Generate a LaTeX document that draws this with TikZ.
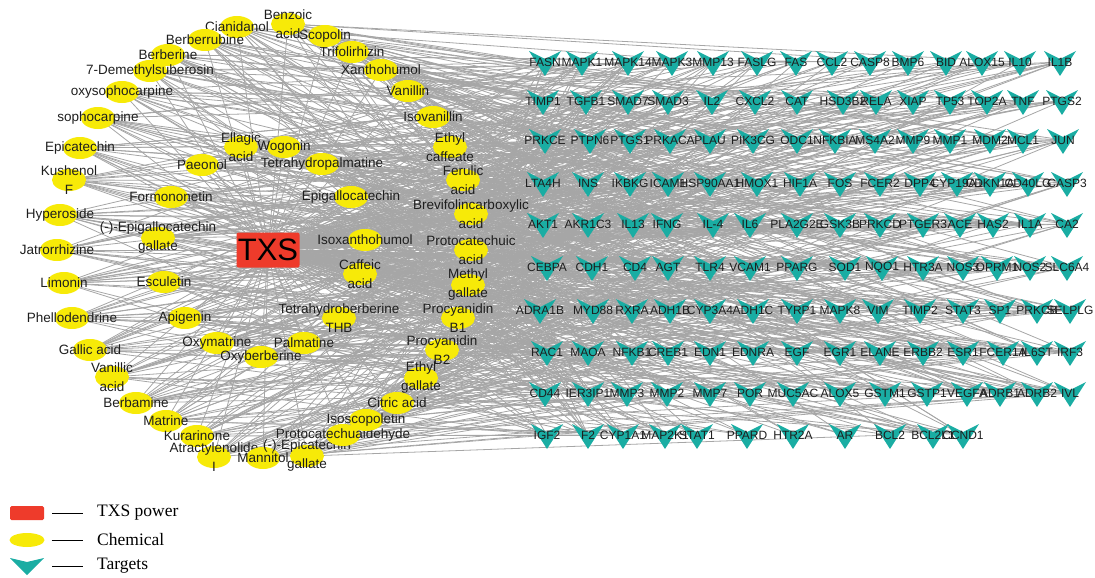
\documentclass[tikz,border=0pt]{standalone}
\usepackage{fontspec}
\setmainfont{Liberation Sans}
\newfontfamily\legendfont{Liberation Serif}
\usetikzlibrary{backgrounds,shapes.geometric}
\definecolor{chemyellow}{HTML}{F7EA08}
\definecolor{targetteal}{HTML}{1AADA3}
\definecolor{txsred}{HTML}{EE3B2B}
\definecolor{edgegray}{HTML}{A6A6A6}
\definecolor{labelblack}{HTML}{1E1E1E}
\tikzset{
  chem/.style={inner sep=0pt, minimum width=34pt, minimum height=22pt, align=center,
    text=labelblack, font=\fontsize{13.5}{19}\selectfont,
    path picture={\fill[chemyellow] (path picture bounding box.center) ellipse [x radius=17pt, y radius=11pt];}},
  target/.style={inner sep=0pt, minimum width=34pt, minimum height=28pt,
    text=labelblack, font=\fontsize{12}{14}\selectfont,
    path picture={\fill[targetteal]
      ([shift={(-16pt,11pt)}]path picture bounding box.center) --
      ([shift={(0pt,3pt)}]path picture bounding box.center) --
      ([shift={(16pt,11pt)}]path picture bounding box.center) --
      ([shift={(0pt,-14pt)}]path picture bounding box.center) -- cycle;}},
  legtarget/.style={inner sep=0pt, minimum width=36pt, minimum height=20pt,
    path picture={\fill[targetteal]
      ([shift={(-17pt,8pt)}]path picture bounding box.center) --
      ([shift={(0pt,4pt)}]path picture bounding box.center) --
      ([shift={(17pt,8pt)}]path picture bounding box.center) --
      ([shift={(0pt,-9pt)}]path picture bounding box.center) -- cycle;}},
  legtext/.style={anchor=west, inner sep=0pt, font=\legendfont\fontsize{17.5}{19}\selectfont},
  edge/.style={draw=edgegray, line width=0.8pt}
}
\begin{document}
\begin{tikzpicture}[x=1pt, y=-1pt]
\useasboundingbox (0,0) rectangle (1095,578);

\node[inner sep=0pt, fill=txsred, rounded corners=2pt, minimum width=63pt, minimum height=35pt,
  font=\fontsize{31}{31}\selectfont] (txs) at (268,250) {TXS};

% chemicals, outer ring
\node[chem] (c1) at (237,27) {Cianidanol};
\node[chem] (c2) at (205,40) {Berberrubine};
\node[chem] (c3) at (168,55) {Berberine};
\node[chem] (c4) at (150,71) {7-Demethylsuberosin};
\node[chem] (c5) at (122,92) {oxysophocarpine};
\node[chem] (c6) at (98,118) {sophocarpine};
\node[chem] (c7) at (80,148) {Epicatechin};
\node[chem] (c8) at (69,180) {Kushenol\\F};
\node[chem] (c9) at (60,215) {Hyperoside};
\node[chem] (c10) at (57,250) {Jatrorrhizine};
\node[chem] (c11) at (64,283) {Limonin};
\node[chem] (c12) at (72,318) {Phellodendrine};
\node[chem] (c13) at (90,350) {Gallic acid};
\node[chem] (c14) at (112,377) {Vanillic\\acid};
\node[chem] (c15) at (136,403) {Berbamine};
\node[chem] (c16) at (166,421) {Matrine};
\node[chem] (c17) at (197,436) {Kurarinone};
\node[chem] (c18) at (214,457) {Atractylenolide\\I};
\node[chem] (c19) at (263,458) {Mannitol};
\node[chem] (c20) at (307,456) {(-)-Epicatechin\\gallate};
\node[chem] (c21) at (343,435) {Protocatechualdehyde};
\node[chem] (c22) at (366,420) {Isoscopoletin};
\node[chem] (c23) at (397,403) {Citric acid};
\node[chem] (c24) at (421,378) {Ethyl\\gallate};
\node[chem] (c25) at (442,350) {Procyanidin\\B2};
\node[chem] (c26) at (458,318) {Procyanidin\\B1};
\node[chem] (c27) at (468,285) {Methyl\\gallate};
\node[chem] (c28) at (471,250) {Protocatechuic\\acid};
\node[chem] (c29) at (471,214) {Brevifolincarboxylic\\acid};
\node[chem] (c30) at (463,180) {Ferulic\\acid};
\node[chem] (c31) at (450,147) {Ethyl\\caffeate};
\node[chem] (c32) at (433,117) {Isovanillin};
\node[chem] (c33) at (408,91) {Vanillin};
\node[chem] (c34) at (381,70) {Xanthohumol};
\node[chem] (c35) at (352,52) {Trifolirhizin};
\node[chem] (c36) at (325,36) {Scopolin};
\node[chem] (c37) at (288,24) {Benzoic\\acid};
% chemicals, inner ring
\node[chem] (c38) at (241,147) {Ellagic\\acid};
\node[chem] (c39) at (284,147) {Wogonin};
\node[chem] (c40) at (322,164) {Tetrahydropalmatine};
\node[chem] (c41) at (202,165) {Paeonol};
\node[chem] (c42) at (171,197) {Formononetin};
\node[chem] (c43) at (351,197) {Epigallocatechin};
\node[chem] (c44) at (158,238) {(-)-Epigallocatechin\\gallate};
\node[chem] (c45) at (365,240) {Isoxanthohumol};
\node[chem] (c46) at (164,282) {Esculetin};
\node[chem] (c47) at (360,274) {Caffeic\\acid};
\node[chem] (c48) at (339,318) {Tetrahydroberberine\\THB};
\node[chem] (c49) at (185,318) {Apigenin};
\node[chem] (c50) at (217,343) {Oxymatrine};
\node[chem] (c51) at (304,343) {Palmatine};
\node[chem] (c52) at (261,357) {Oxyberberine};

% targets, row by row
\foreach \lab/\x [count=\n from 1] in {FASN/545, MAPK1/582, MAPK14/628, MAPK3/672, MMP13/713, FASLG/757, FAS/796, CCL2/832, CASP8/870, BMP6/908, BID/946, ALOX15/982, IL10/1020, IL1B/1060}
  \node[target] (t\n) at (\x,62) {\lab};
\foreach \lab/\x [count=\n from 15] in {TIMP1/543, TGFB1/586, SMAD7/628, SMAD3/668, IL2/712, CXCL2/755, CAT/797, HSD3B2/843, RELA/876, XIAP/913, TP53/950, TOP2A/987, TNF/1023, PTGS2/1062}
  \node[target] (t\n) at (\x,101) {\lab};
\foreach \lab/\x [count=\n from 29] in {PRKCE/545, PTPN6/590, PTGS1/630, PRKACA/670, PLAU/710, PIK3CG/753, ODC1/797, NFKBIA/835, MS4A2/875, MMP9/913, MMP1/950, MDM2/990, MCL1/1023, JUN/1063}
  \node[target] (t\n) at (\x,140) {\lab};
\foreach \lab/\x [count=\n from 43] in {LTA4H/543, INS/588, IKBKG/630, ICAM1/668, HSP90AA1/710, HMOX1/757, HIF1A/800, FOS/840, FCER2/880, DPP4/920, CYP19A1/957, CDKN1A/990, CD40LG/1028, CASP3/1067}
  \node[target] (t\n) at (\x,183) {\lab};
\foreach \lab/\x [count=\n from 57] in {AKT1/543, AKR1C3/588, IL13/633, IFNG/667, IL-4/713, IL6/750, PLA2G2E/797, GSK3B/840, PRKCD/880, PTGER3/923, ACE/960, HAS2/993, IL1A/1030, CA2/1067}
  \node[target] (t\n) at (\x,224) {\lab};
\foreach \lab/\x [count=\n from 71] in {CEBPA/547, CDH1/592, CD4/635, AGT/668, TLR4/710, VCAM1/750, PPARG/797, SOD1/845, NQO1/882, HTR3A/923, NOS3/963, OPRM1/997, NOS2/1030, SLC6A4/1067}
  \node[target] (t\n) at (\x,267) {\lab};
\foreach \lab/\x [count=\n from 85] in {ADRA1B/540, MYD88/593, RXRA/632, ADH1B/670, CYP3A4/710, ADH1C/753, TYRP1/797, MAPK8/840, VIM/878, TIMP2/920, STAT3/963, SP1/1000, PRKCB/1037, SELPLG/1070}
  \node[target] (t\n) at (\x,310) {\lab};
\foreach \lab/\x [count=\n from 99] in {RAC1/547, MAOA/588, NFKB1/632, CREB1/668, EDN1/710, EDNRA/753, EGF/797, EGR1/840, ELANE/880, ERBB2/923, ESR1/963, FCER1A/1003, IL6ST/1037, IRF3/1070}
  \node[target] (t\n) at (\x,352) {\lab};
\foreach \lab/\x [count=\n from 113] in {CD44/545, IER3IP1/588, MMP3/627, MMP2/667, MMP7/710, POR/750, MUC5AC/793, ALOX5/840, GSTM1/885, GSTP1/927, VEGFA/967, ADRB1/1000, ADRB2/1037, IVL/1070}
  \node[target] (t\n) at (\x,393) {\lab};
\foreach \lab/\x [count=\n from 127] in {IGF2/547, F2/588, CYP1A1/623, MAP2K1/665, STAT1/697, PPARD/747, HTR2A/793, AR/845, BCL2/890, BCL2L1/933, CCND1/963}
  \node[target] (t\n) at (\x,435) {\lab};

\begin{scope}[on background layer]
\foreach \i in {1,...,52}
  \path[edge] (txs.center) -- (c\i.center);
\foreach \j in {1,...,137}
  \path[edge] (txs.center) -- (t\j.center);
\foreach \i in {1,...,52}
  \foreach \k in {1,...,14} {
    \pgfmathtruncatemacro\j{mod(\i*41+\k*\k*13+\k*17,137)+1}
    \path[edge] (c\i.center) -- (t\j.center);
  }
\end{scope}

% legend
\node[inner sep=0pt, fill=txsred, rounded corners=1.5pt, minimum width=34pt, minimum height=14pt] (l1) at (27,513) {};
\node[legtext] (l1t) at (97,513) {TXS power};
\node[ellipse, inner sep=0pt, fill=chemyellow, minimum width=35pt, minimum height=14pt] (l2) at (27,540) {};
\node[legtext] (l2t) at (97,540) {Chemical};
\node[legtarget] (l3) at (27,566) {};
\node[legtext] (l3t) at (97,566) {Targets};
\path[draw, line width=0.6pt] ([xshift=8pt]l1.east) -- ([xshift=-14pt]l1t.west);
\path[draw, line width=0.6pt] ([xshift=7pt]l2.east) -- ([xshift=-14pt]l2t.west);
\path[draw, line width=0.6pt] ([xshift=7pt]l3.east) -- ([xshift=-14pt]l3t.west);
\end{tikzpicture}
\end{document}
